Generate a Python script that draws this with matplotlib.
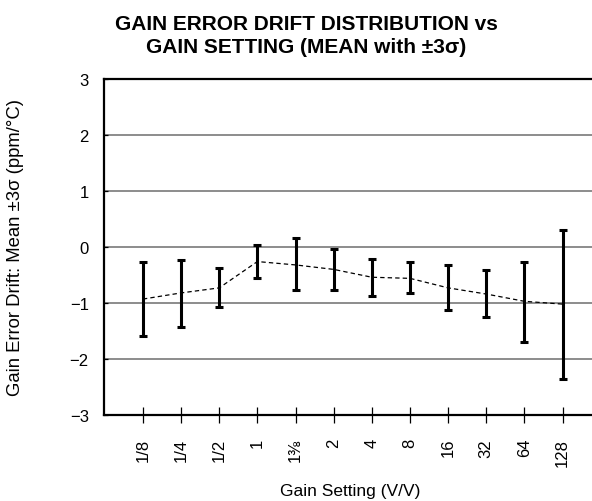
import matplotlib
matplotlib.use("Agg")
import matplotlib.pyplot as plt
import numpy as np

plt.rcParams['font.family'] = ['Liberation Sans', 'DejaVu Sans']

gain_labels = ["1/8", "1/4", "1/2", "1", "1⅜", "2", "4", "8", "16", "32", "64", "128"]
mean_drift = [-0.93, -0.82, -0.73, -0.26, -0.32, -0.40, -0.54, -0.56, -0.73, -0.84, -0.97, -1.02]
low_3sigma = [-1.59, -1.42, -1.08, -0.56, -0.76, -0.76, -0.88, -0.83, -1.12, -1.25, -1.70, -2.35]
high_3sigma = [-0.26, -0.225, -0.37, 0.04, 0.155, -0.03, -0.22, -0.27, -0.33, -0.41, -0.26, 0.30]


def main():
    W, H = 592, 502
    fig = plt.figure(figsize=(W / 100, H / 100), dpi=100)
    ax = fig.add_axes([104 / W, (H - 416) / H, (W - 104) / W, 336 / H])

    x = np.arange(1, len(gain_labels) + 1)
    mean = np.array(mean_drift)
    yerr = [mean - np.array(low_3sigma), np.array(high_3sigma) - mean]

    ax.plot(x, mean, color='black', lw=0.9, ls=(0, (3.5, 2.5)), zorder=3)
    ax.errorbar(x, mean, yerr=yerr, fmt='none', ecolor='black', elinewidth=2.2,
                capsize=3.0, capthick=2.2, zorder=4)

    ax.set_xlim(-0.02, 12.77)
    ax.set_ylim(-3, 3)
    ax.set_yticks([-3, -2, -1, 0, 1, 2, 3])
    ax.set_yticklabels(["\u22123", "\u22122", "\u22121", "0", "1", "2", "3"], fontsize=12)
    ax.set_xticks(x)
    ax.set_xticklabels(gain_labels, rotation=90, fontsize=12)
    ax.tick_params(axis='x', direction='inout', length=11, width=0.9, pad=11)
    ax.tick_params(axis='y', direction='in', length=3, width=0.9, pad=11)

    ax.yaxis.grid(True, color='#8c8c8c', lw=1.4)
    ax.set_axisbelow(True)
    for side in ['top', 'left', 'bottom']:
        ax.spines[side].set_linewidth(1.6)
    ax.spines['right'].set_visible(False)

    fig.text(306 / W, 1 - 36 / H, "GAIN ERROR DRIFT DISTRIBUTION vs\nGAIN SETTING (MEAN with \u00b13\u03c3)",
             ha='center', va='center', fontsize=15, fontweight='bold', linespacing=1.27)
    fig.text(350 / W, 1 - 492 / H, "Gain Setting (V/V)", ha='center', va='center', fontsize=12.5)
    fig.text(16 / W, 1 - 248 / H, "Gain Error Drift: Mean \u00b13\u03c3 (ppm/\u00b0C)",
             ha='center', va='center', rotation=90, fontsize=13.3)

    fig.savefig("out.png", dpi=100)


if __name__ == "__main__":
    main()
